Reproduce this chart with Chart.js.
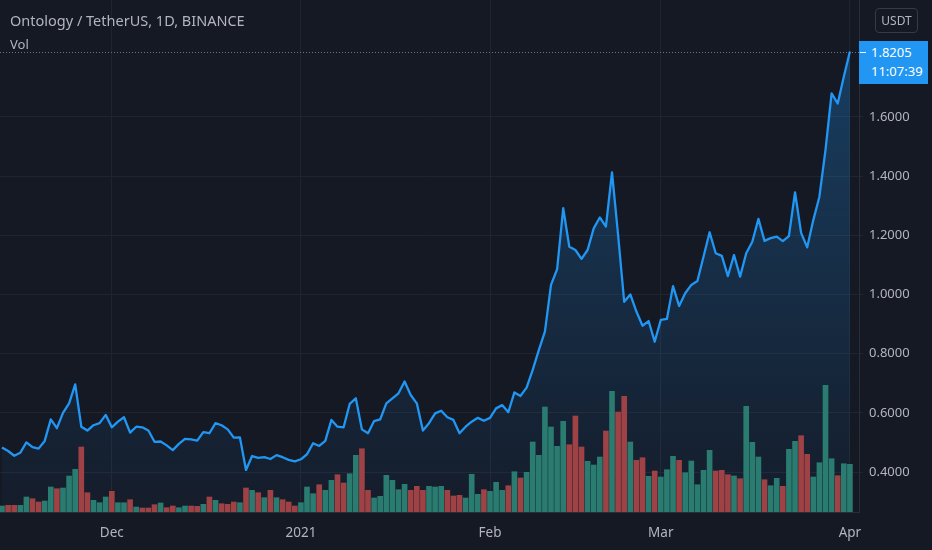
<!DOCTYPE html>
<html><head><meta charset="utf-8">
<script src="https://cdn.jsdelivr.net/npm/chart.js@4.4.1/dist/chart.umd.min.js"></script>
<style>
html,body{margin:0;padding:0;background:#151924;overflow:hidden;}
#wrap{position:relative;width:932px;height:550px;}
canvas{display:block}
.t{position:absolute;font-family:"Noto Sans",sans-serif;color:#b2b5be;white-space:nowrap}
</style></head><body>
<div id="wrap"><canvas id="c" width="932" height="550"></canvas>
<div class="t" id="title" style="left:10px;top:10px;font-size:14.5px;">Ontology / TetherUS, 1D, BINANCE</div>
<div class="t" id="vol" style="left:10px;top:35px;font-size:13px;">Vol</div>
<div class="t" id="cur" style="left:875px;top:8px;width:41px;height:23px;border:1px solid #363a45;border-radius:4px;font-size:12px;line-height:23px;text-align:center;">USDT</div>
<div class="t" id="pbox" style="left:859px;top:40px;width:69px;height:43px;background:#2196f3;color:#fff;font-size:13px;line-height:19px;padding-top:2px;padding-left:12px;box-sizing:border-box;">
  <div style="position:absolute;left:1px;top:11px;width:6px;height:1px;background:#fff"></div>
  <div id="p1"></div><div id="p2"></div>
</div>
</div>
<script>
// ---- data ----
const price = [
 0.483,0.471,0.455,0.465,0.500,0.484,0.479,0.505,0.578,0.548,
 0.600,0.632,0.696,0.553,0.540,0.558,0.565,0.593,0.551,0.570,
 0.585,0.533,0.553,0.551,0.540,0.502,0.503,0.490,0.474,0.495,
 0.512,0.510,0.506,0.535,0.531,0.565,0.558,0.544,0.516,0.517,
 0.407,0.454,0.448,0.450,0.444,0.457,0.450,0.441,0.436,0.443,
 0.460,0.497,0.488,0.505,0.576,0.553,0.551,0.630,0.649,0.544,
 0.531,0.572,0.578,0.632,0.649,0.666,0.706,0.660,0.632,0.540,
 0.565,0.598,0.607,0.585,0.576,0.531,0.553,0.570,0.583,0.573,
 0.583,0.615,0.626,0.602,0.669,0.657,0.685,0.745,0.812,0.874,
 1.032,1.085,1.291,1.161,1.150,1.120,1.150,1.223,1.260,1.229,
 1.412,1.200,0.975,1.000,0.942,0.894,0.910,0.840,0.914,0.917,
 1.028,0.961,1.004,1.032,1.045,1.127,1.210,1.139,1.130,1.062,
 1.133,1.060,1.139,1.178,1.255,1.181,1.190,1.195,1.180,1.197,
 1.345,1.208,1.159,1.251,1.330,1.488,1.679,1.645,1.735,1.8205
];
const volumeM = [
 0.60,0.67,0.67,0.67,1.50,1.33,1.00,1.10,2.50,2.33,
 2.40,3.60,4.27,6.50,1.93,1.17,0.93,1.50,2.07,0.93,
 0.93,1.23,0.50,0.40,0.40,0.73,0.90,0.43,0.60,0.43,
 0.60,0.60,0.57,0.77,1.50,1.17,0.83,0.77,1.00,0.93,
 2.40,2.17,1.93,1.43,2.17,1.43,1.23,1.00,0.60,0.93,
 2.50,1.83,2.73,2.17,3.17,3.73,2.90,3.83,5.67,6.33,
 2.17,1.40,1.57,3.67,3.17,2.23,2.77,2.17,2.57,2.17,
 2.57,2.50,2.57,2.17,1.60,1.67,1.40,3.77,1.77,2.23,
 2.07,2.97,2.17,2.63,4.03,3.40,3.97,7.00,5.67,10.50,
 8.50,6.57,9.07,6.73,9.60,6.50,5.07,4.70,5.50,8.10,
 12.07,10.00,11.57,7.00,5.17,5.43,3.57,4.10,3.50,4.23,
 5.57,5.17,3.93,5.10,2.73,4.17,6.17,4.10,4.17,3.73,
 3.60,3.33,10.57,6.97,5.50,3.23,2.63,3.37,2.57,6.27,
 7.07,7.63,5.77,3.50,4.93,12.67,5.33,3.63,4.83,4.77
];
const monthTickIndex = [18, 49, 80, 108, 139];
const monthTickLabels = ['Dec', '2021', 'Feb', 'Mar', 'Apr'];
const priceTicks = [0.4, 0.6, 0.8, 1.0, 1.2, 1.4, 1.6];
const lastTime = '11:07:39';

// ---- styles ----
const GRID = '#20242f';
const TXT = '#b2b5be';
const FONT = '"Noto Sans", sans-serif';
const UP = '#2a7b70', DOWN = '#9e4245';

const volColors = volumeM.map((v, i) => (i === 0 || price[i] >= price[i - 1]) ? UP : DOWN);

const noPad = (s) => { s.paddingTop = 0; s.paddingBottom = 0; s.paddingLeft = 0; s.paddingRight = 0; };

const priceLine = {
  id: 'priceLine',
  afterDatasetsDraw(chart) {
    const y = chart.scales.y.getPixelForValue(price[price.length - 1]);
    const c = chart.ctx, a = chart.chartArea;
    c.save();
    c.strokeStyle = 'rgba(120,150,185,0.75)';
    c.lineWidth = 1;
    c.setLineDash([1, 2]);
    c.beginPath();
    c.moveTo(a.left, Math.round(y) + 0.5);
    c.lineTo(a.right, Math.round(y) + 0.5);
    c.stroke();
    c.restore();
  }
};

const chart = new Chart(document.getElementById('c'), {
  data: {
    datasets: [
      {
        type: 'line',
        data: price.map((v, i) => ({ x: i, y: v })),
        yAxisID: 'y',
        borderColor: '#2196f3',
        borderWidth: 2.3,
        borderJoinStyle: 'round',
        pointRadius: 0,
        tension: 0,
        fill: 'start',
        order: 1,
        backgroundColor: (ctx) => {
          const ch = ctx.chart, a = ch.chartArea;
          if (!a) return 'rgba(33,150,243,0.1)';
          const g = ch.ctx.createLinearGradient(0, a.top, 0, a.bottom);
          g.addColorStop(0, 'rgba(33,150,243,0.32)');
          g.addColorStop(1, 'rgba(33,150,243,0.03)');
          return g;
        }
      },
      {
        type: 'bar',
        data: volumeM.map((v, i) => ({ x: i, y: v })),
        yAxisID: 'yv',
        backgroundColor: volColors,
        barThickness: 5,
        order: 2
      }
    ]
  },
  options: {
    responsive: false,
    animation: false,
    devicePixelRatio: 1,
    layout: { padding: 0 },
    plugins: {
      legend: { display: false },
      tooltip: { enabled: false },
      filler: { drawTime: 'beforeDatasetsDraw' }
    },
    scales: {
      x: {
        type: 'linear',
        offset: false,
        min: -0.328,
        max: 140.49,
        afterBuildTicks: (s) => { s.ticks = monthTickIndex.map(v => ({ value: v })); },
        afterFit: (s) => { s.height = 38; noPad(s); },
        grid: { color: GRID, drawTicks: false, offset: false },
        border: { color: '#2a2e39' },
        ticks: {
          autoSkip: false, maxRotation: 0, padding: 13,
          color: TXT, font: { family: FONT, size: 13.5 },
          callback: (v) => { const k = monthTickIndex.indexOf(v); return k >= 0 ? monthTickLabels[k] : ''; }
        }
      },
      y: {
        position: 'right',
        min: 0.2649,
        max: 1.9946,
        afterBuildTicks: (s) => { s.ticks = priceTicks.map(v => ({ value: v })); },
        afterFit: (s) => { s.width = 73; noPad(s); },
        grid: { color: GRID, tickLength: 4 },
        border: { color: '#2a2e39' },
        ticks: {
          padding: 6, color: TXT, font: { family: FONT, size: 13 },
          callback: (v) => Number(v).toFixed(4)
        }
      },
      yv: {
        display: false,
        min: 0,
        max: 51.2
      }
    }
  },
  plugins: [priceLine]
});

// last price label
const last = price[price.length - 1];
document.getElementById('p1').textContent = last.toFixed(4);
document.getElementById('p2').textContent = lastTime;
const ly = chart.scales.y.getPixelForValue(last);
document.getElementById('pbox').style.top = (Math.round(ly) - 11) + 'px';
</script>
</body></html>
